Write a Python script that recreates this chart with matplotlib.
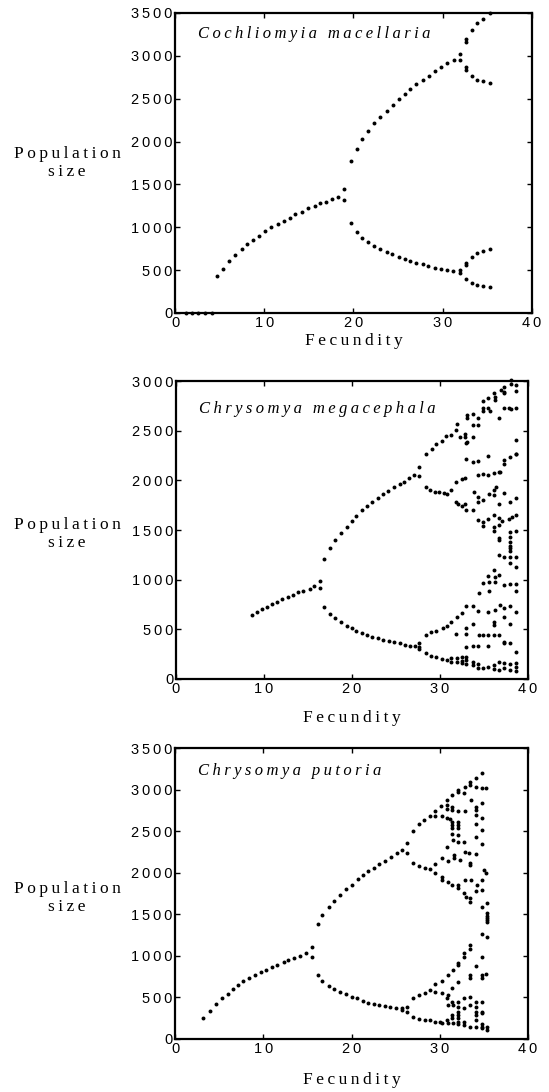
import matplotlib
matplotlib.use("Agg")
import matplotlib.pyplot as plt
from matplotlib.ticker import FuncFormatter

# ---- data ----
species = ["Cochliomyia macellaria", "Chrysomya megacephala", "Chrysomya putoria"]

fec_cm = [1.2, 1.9, 2.6, 3.4, 4.1,
          4.74, 5.34, 6.05, 6.69, 7.47, 8.1, 8.74, 9.41, 10.1, 10.8, 11.5, 12.2, 12.85, 13.5, 14.2,
          14.9, 15.65, 16.3, 16.95, 17.6, 18.3, 18.9, 18.9,
          19.7, 20.35, 21.0, 21.66, 22.3, 23.0, 23.7, 24.35, 25.06, 25.8, 26.36, 27.04, 27.75, 28.4,
          29.17, 29.8, 30.5, 31.2, 31.9, 31.9, 32.57, 32.57, 32.57, 33.24, 33.24, 33.87, 33.87,
          34.55, 34.55, 35.3, 35.3,
          19.7, 20.35, 21.0, 21.66, 22.3, 22.97, 23.7, 24.4, 25.1, 25.77, 26.37, 27.04, 27.8, 28.5,
          29.17, 29.8, 30.5, 31.26, 31.9, 31.9, 32.57, 32.57, 32.57, 32.57, 33.24, 33.24, 33.87, 33.87,
          34.55, 34.55, 35.3, 35.3]
pop_cm = [0, 0, 0, 0, 0,
          432, 517, 603, 673, 743, 801, 856, 898, 953, 1000, 1042, 1077, 1112, 1151, 1182,
          1221, 1252, 1280, 1299, 1330, 1357, 1443, 1314,
          1046, 941, 879, 828, 782, 747, 716, 688, 650, 626, 607, 583, 568, 548,
          529, 513, 502, 490, 505, 469, 587, 556, 400, 650, 354, 696, 330,
          723, 315, 750, 299,
          1770, 1913, 2030, 2123, 2213, 2287, 2360, 2430, 2500, 2555, 2610, 2668, 2718, 2769,
          2823, 2870, 2913, 2956, 2956, 3026, 3192, 3165, 2874, 2835, 3298, 2765, 3380, 2722,
          3433, 2707, 3497, 2680]

fec_mg = [8.6, 9.17, 9.74, 10.3, 10.9, 11.5, 12.08, 12.7, 13.3, 13.9, 14.45, 15.2, 15.7, 16.36, 16.36,
          16.8, 17.5, 18.1, 18.75, 19.4, 20.0, 20.5, 21.1, 21.7, 22.3, 22.98, 23.55, 24.1, 24.77, 25.4,
          25.9, 26.5, 27.1, 27.6, 27.6,
          16.8, 17.5, 18.1, 18.75, 19.4, 19.97, 20.5, 21.1, 21.7, 22.3, 22.95, 23.55, 24.2, 24.8, 25.4,
          26.0, 26.6, 27.2, 27.6, 27.6, 27.6,
          28.4, 29.05, 29.6, 30.2, 30.65, 31.2, 31.8, 31.9, 32.3, 32.8, 32.8, 33.07, 33.07, 33.07, 33.8,
          33.8, 33.8, 34.35, 34.35, 34.9, 34.9, 34.9, 35.4, 35.5, 35.7, 36.1, 36.2, 36.2, 36.7, 36.9,
          37.3, 37.3, 37.3, 37.3, 37.8, 38.1, 38.07, 38.07, 38.6, 38.6, 38.6, 38.6, 38.6, 32.95,
          33.0, 33.8, 34.3, 35.5, 37.3, 37.3, 38.0, 38.6,
          36.7, 34.3, 34.9, 35.5, 36.1, 36.8, 31.8, 32.5, 32.8,
          28.4, 28.9, 29.4, 29.9, 30.5, 30.8, 31.3, 31.8, 32.1, 32.5, 32.8, 33.0, 33.8, 33.9, 34.35,
          34.35, 34.9, 35.6, 36.1, 36.1, 36.4, 36.7, 37.3, 37.95, 38.6,
          34.35, 34.9, 35.5, 36.1, 36.65, 37.0, 37.8, 38.2, 38.6,
          34.9, 36.1, 36.1, 36.7, 38.6,
          38.0, 38.0, 38.0, 38.0, 38.0, 38.0,
          36.7, 36.7, 36.7, 37.3, 37.95, 38.6, 38.0, 38.6,
          36.1, 35.5, 36.2, 36.7, 34.9, 35.6, 36.2, 37.3, 38.0, 38.6, 38.6, 34.4, 35.6,
          33.0, 33.8, 32.5, 31.9, 31.3, 30.8, 30.3, 29.6, 29.0, 28.4, 33.8, 34.3, 35.5, 36.2, 36.8,
          37.3, 38.0, 37.3, 38.6, 36.1, 36.1, 38.0, 31.8, 33.0, 33.0, 34.4, 34.9, 35.5, 36.1, 36.7,
          37.3, 37.3, 38.0, 38.6, 33.8, 34.35, 35.5, 33.0,
          28.4, 29.0, 29.6, 30.2, 30.8, 31.3, 31.3, 31.9, 31.9, 32.5, 32.5, 32.5, 33.0, 33.0, 33.0,
          33.8, 33.8, 34.35, 34.35, 34.9, 35.5, 36.1, 36.1, 36.7, 36.7, 37.3, 37.3, 38.0, 38.0, 38.6,
          38.6, 38.6]
pop_mg = [644, 675, 702, 725, 752, 775, 802, 822, 845, 873, 883, 909, 936, 987, 916,
          1208, 1322, 1400, 1474, 1530, 1590, 1645, 1699, 1742, 1785, 1826, 1860, 1896, 1933, 1963,
          1987, 2020, 2054, 2131, 2045,
          725, 654, 611, 571, 534, 510, 486, 466, 440, 426, 410, 393, 383, 369, 359,
          342, 335, 332, 359, 325, 299,
          2265, 2316, 2363, 2400, 2446, 2453, 2507, 2564, 2440, 2470, 2440, 2624, 2658, 2389, 2665,
          2557, 2433, 2624, 2557, 2799, 2725, 2698, 2832, 2725, 2698, 2876, 2843, 2809, 2624, 2909,
          2943, 2892, 2876, 2732, 2732, 2718, 3010, 2967, 2960, 2899, 2725, 2406, 2265, 2379,
          2215, 2182, 2198, 2242, 2161, 2205, 2232, 2262,
          2087, 2054, 2060, 2054, 2070, 2080, 1980, 2014, 2027,
          1935, 1903, 1886, 1880, 1870, 1860, 1903, 1785, 1760, 1740, 1760, 1700, 1700, 1886, 1836,
          1785, 1802, 1860, 1903, 1853, 1936, 1759, 1870, 1779, 1825,
          1600, 1584, 1611, 1651, 1618, 1591, 1611, 1634, 1651,
          1543, 1534, 1490, 1547, 1490,
          1483, 1433, 1382, 1342, 1316, 1289,
          1400, 1416, 1248, 1232, 1232, 1232, 1165, 1131,
          1097, 1040, 1030, 1047, 963, 980, 973, 946, 953, 953, 889, 863, 889,
          735, 735, 661, 627, 577, 537, 510, 483, 470, 443, 550, 684, 678, 695, 745,
          712, 735, 627, 671, 577, 544, 550, 450, 510, 450, 443, 446, 443, 440, 443,
          376, 359, 359, 275, 335, 335, 335, 325,
          258, 232, 218, 201, 191, 208, 174, 208, 168, 225, 181, 158, 225, 191, 148,
          174, 141, 148, 114, 114, 124, 141, 101, 174, 91, 158, 108, 148, 91, 158,
          124, 84]

fec_cp = [3.2, 3.97, 4.6, 5.3, 5.97, 6.6, 7.17, 7.74, 8.4, 9.07, 9.7, 10.3, 11.0, 11.6, 12.3, 12.8,
          13.5, 14.2, 14.8, 15.55, 15.55,
          16.2, 16.7, 17.4, 18.05, 18.7, 19.4, 20.0, 20.7, 21.3, 21.9, 22.5, 23.15, 23.8, 24.5, 25.1,
          25.7, 26.25, 26.25,
          16.2, 16.7, 17.4, 18.05, 18.7, 19.4, 20.0, 20.65, 21.3, 21.9, 22.5, 23.15, 23.8, 24.4, 25.0,
          25.7, 25.7, 26.25, 26.25,
          27.0, 27.6, 28.25, 28.9, 29.5, 29.5, 30.1, 30.8, 30.8, 31.4, 32.1, 32.1, 32.7, 32.9, 33.4,
          33.4, 34.1, 34.8, 34.1, 34.75, 35.2,
          30.8, 31.4, 31.4, 32.1, 32.9, 33.5, 34.1, 34.1, 34.75, 34.8,
          30.2, 30.8, 31.2, 31.4, 31.4, 31.4, 32.1, 32.1, 32.1, 31.4, 32.1, 31.5, 32.1, 34.1, 34.1,
          34.1, 34.8, 34.8,
          30.8, 31.65, 31.65, 32.8, 32.9, 33.3, 34.1, 33.4, 33.4, 32.3,
          27.0, 27.65, 28.3, 28.9, 29.5, 29.5, 30.2, 30.2, 30.2, 30.9, 30.9, 31.4, 32.1, 32.1, 32.9,
          33.5, 34.2, 34.8, 34.8, 35.0, 35.2, 32.8, 32.95, 33.4, 34.1,
          33.4, 34.8, 35.3, 35.3, 35.3, 35.3, 35.3, 35.3, 34.8, 35.3,
          33.4, 33.4, 32.8, 32.8, 32.1, 32.1, 31.5, 30.9, 30.2, 29.5, 28.9, 28.3, 27.65, 27.0,
          33.4, 33.4, 34.1, 34.8, 34.8, 35.2, 32.1, 31.4, 30.9, 30.2, 29.5, 34.8,
          30.8, 31.4, 32.1, 32.8, 33.4, 34.1, 34.8,
          30.9, 31.5, 32.1, 32.8, 33.4, 34.1, 34.8, 34.1, 34.1, 34.8,
          27.0, 27.6, 28.3, 28.9, 29.5, 30.0, 30.2, 30.8, 30.9, 31.4, 31.4, 31.5, 32.1, 32.1, 32.1,
          32.1, 32.1, 32.8, 32.8, 33.4, 34.1, 34.1, 34.8, 34.8, 34.8, 35.3, 35.3]
pop_cp = [249, 337, 417, 490, 541, 597, 650, 698, 737, 770, 806, 834, 866, 894, 930, 950,
          970, 998, 1031, 1110, 983,
          1380, 1491, 1584, 1664, 1734, 1800, 1854, 1921, 1969, 2021, 2061, 2105, 2145, 2193, 2233,
          2273, 2361, 2240,
          770, 701, 637, 601, 569, 538, 509, 490, 461, 437, 421, 409, 397, 389, 376,
          369, 349, 389, 321,
          2502, 2582, 2634, 2682, 2686, 2742, 2806, 2874, 2814, 2935, 2975, 2995, 2955, 3035, 3088,
          3055, 3135, 3196, 3035, 3023, 3023,
          2763, 2790, 2755, 2742, 2742, 2874, 2794, 2754, 2835, 2662,
          2686, 2662, 2646, 2614, 2574, 2534, 2614, 2574, 2534, 2462, 2454, 2394, 2366, 2582, 2694,
          2434, 2514, 2342,
          2313, 2213, 2174, 2366, 2253, 2233, 2221, 2113, 2093, 2153,
          2113, 2085, 2053, 2041, 2101, 1993, 1952, 1912, 2174, 2145, 1892, 1852, 1852, 1812, 1912,
          1912, 1852, 1912, 1792, 2033, 1993, 1752, 1712, 1692, 1780,
          1652, 1592, 1632, 1512, 1480, 1451, 1431, 1411, 1259, 1231,
          1131, 1079, 1031, 990, 910, 890, 830, 770, 698, 657, 589, 550, 529, 490,
          770, 730, 882, 770, 730, 785, 682, 617, 529, 550, 569, 990,
          489, 449, 449, 489, 509, 449, 449,
          409, 409, 389, 369, 409, 389, 329, 329, 289, 309,
          269, 240, 233, 225, 208, 208, 189, 229, 189, 289, 249, 189, 329, 289, 249,
          208, 176, 208, 168, 148, 148, 229, 185, 148, 128, 148, 108]

panel_x = [fec_cm, fec_mg, fec_cp]
panel_y = [pop_cm, pop_mg, pop_cp]
y_max = [3500, 3000, 3500]
x_ticks = [0, 10, 20, 30, 40]

SANS = ["Liberation Sans", "DejaVu Sans"]
SERIF = ["Liberation Serif", "DejaVu Serif"]
TS = "\u2009"   # thin space, used for the wide letter spacing of the original


def spaced(s, sep=TS):
    return sep.join(s)


W, H = 549, 1092
fig = plt.figure(figsize=(W / 100, H / 100), dpi=100)

# axes boxes in pixels: left, top, right, bottom
boxes = [(175, 13, 532, 313), (176, 381, 528, 679), (175, 748, 528, 1039)]
name_y = [0.93, 0.905, 0.92]
fec_label_y = [341, 718, 1080]
pop_label_y = [163, 534, 898]

for i in range(3):
    l, t, r, b = boxes[i]
    ax = fig.add_axes([l / W, 1 - b / H, (r - l) / W, (b - t) / H])
    ax.scatter(panel_x[i], panel_y[i], s=8, c="black", linewidths=0, clip_on=False, zorder=3)
    ax.set_xlim(0, 40)
    ax.set_ylim(0, y_max[i])
    ax.set_xticks(x_ticks)
    ax.set_yticks(range(0, y_max[i] + 1, 500))
    fmt = FuncFormatter(lambda v, p: spaced(str(int(v))))
    ax.xaxis.set_major_formatter(fmt)
    ax.yaxis.set_major_formatter(fmt)
    ax.tick_params(direction="in", length=3.5, width=1, top=True, right=True,
                   labelsize=10.5, pad=2)
    for lab in ax.get_xticklabels() + ax.get_yticklabels():
        lab.set_family(SANS)
    for sp in ax.spines.values():
        sp.set_linewidth(1.6)
    ax.text(0.064, name_y[i], spaced(species[i]),
            transform=ax.transAxes, ha="left", va="center", fontsize=12,
            style="italic", family=SERIF)

    fig.text((l + r) / 2 / W, 1 - fec_label_y[i] / H, spaced("Fecundity"),
             ha="center", va="center", fontsize=12.5, family=SERIF)
    fig.text(67 / W, 1 - pop_label_y[i] / H, spaced("Population") + "\n" + spaced("size"),
             ha="center", va="center", fontsize=12.5, family=SERIF, linespacing=1.15)

fig.savefig("out.png", dpi=100)
